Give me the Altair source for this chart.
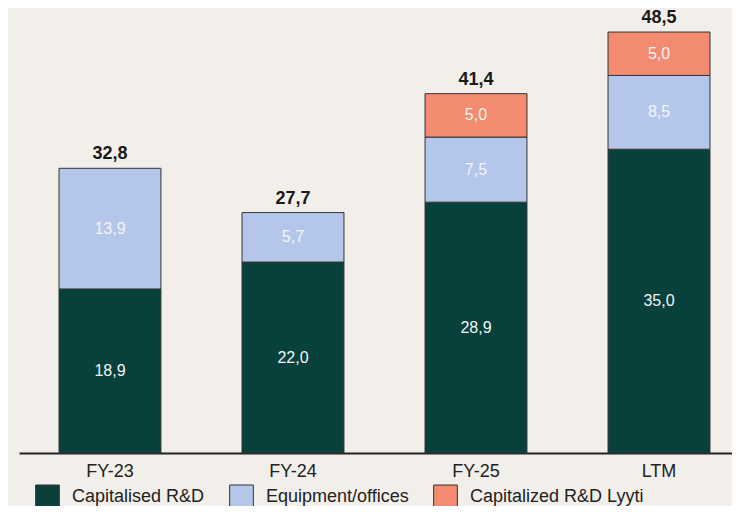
import altair as alt
import pandas as pd

categories = ["FY-23", "FY-24", "FY-25", "LTM"]
series_names = ["Capitalised R&D", "Equipment/offices", "Capitalized R&D Lyyti"]
capitalised_rd = [18.9, 22.0, 28.9, 35.0]
equipment_offices = [13.9, 5.7, 7.5, 8.5]
capitalized_lyyti = [None, None, 5.0, 5.0]
totals = [32.8, 27.7, 41.4, 48.5]
colors = ["#08403c", "#b4c7ea", "#f38b71"]

FONT = "Liberation Sans"


def fmt(v):
    return f"{v:.1f}".replace(".", ",")


rows = []
for s_idx, (name, vals) in enumerate(zip(series_names, [capitalised_rd, equipment_offices, capitalized_lyyti])):
    for c, v in zip(categories, vals):
        if v is None:
            continue
        rows.append({"cat": c, "series": name, "order": s_idx, "value": v, "label": fmt(v)})
df = pd.DataFrame(rows)

tot_df = pd.DataFrame({"cat": categories, "total": totals, "label": [fmt(t) for t in totals]})

x_enc = alt.X(
    "cat:N",
    sort=categories,
    scale=alt.Scale(paddingInner=0.443, paddingOuter=0.1695, align=0.645),
    axis=alt.Axis(
        title=None,
        labelAngle=0,
        ticks=False,
        tickSize=0,
        labelPadding=9,
        labelFont=FONT,
        labelFontSize=18,
        labelColor="#222222",
        domainColor="#222222",
        domainWidth=2,
        grid=False,
    ),
)
y_scale = alt.Scale(domain=[0, 51.27], nice=False, zero=True)

bars = alt.Chart(df).mark_bar(stroke="#333333", strokeWidth=1).encode(
    x=x_enc,
    y=alt.Y("value:Q", stack="zero", scale=y_scale, axis=None),
    color=alt.Color(
        "series:N",
        scale=alt.Scale(domain=series_names, range=colors),
        legend=alt.Legend(
            title=None,
            orient="none",
            direction="horizontal",
            legendX=16,
            legendY=476,
            symbolType="square",
            symbolSize=560,
            symbolStrokeColor="#333333",
            symbolStrokeWidth=1,
            symbolOpacity=1,
            labelFont=FONT,
            labelFontSize=18,
            labelColor="#222222",
            labelOffset=12,
            labelLimit=300,
            columnPadding=22,
            padding=0,
        ),
    ),
    order=alt.Order("order:Q", sort="ascending"),
)

inner = alt.Chart(df).transform_stack(
    stack="value", as_=["y0", "y1"], groupby=["cat"], sort=[alt.SortField("order", order="ascending")]
).transform_calculate(mid="(datum.y0 + datum.y1) / 2").mark_text(
    font=FONT, fontSize=16, color="#f4f4f4", baseline="middle"
).encode(
    x=alt.X("cat:N", sort=categories),
    y=alt.Y("mid:Q", scale=y_scale),
    text="label:N",
)

tot = alt.Chart(tot_df).mark_text(
    font=FONT, fontSize=18, fontWeight="bold", color="#1a1a1a", baseline="alphabetic", dy=-9
).encode(
    x=alt.X("cat:N", sort=categories),
    y=alt.Y("total:Q", scale=y_scale),
    text="label:N",
)

chart = alt.layer(bars, inner, tot).properties(
    width=713,
    height=445,
    background="#f2efea",
    padding={"left": 11, "top": 0, "right": 0, "bottom": 53},
    autosize=alt.AutoSizeParams(type="none"),
).configure_view(stroke=None)

chart.save("out.html", embed_options={"renderer": "svg", "actions": False})
